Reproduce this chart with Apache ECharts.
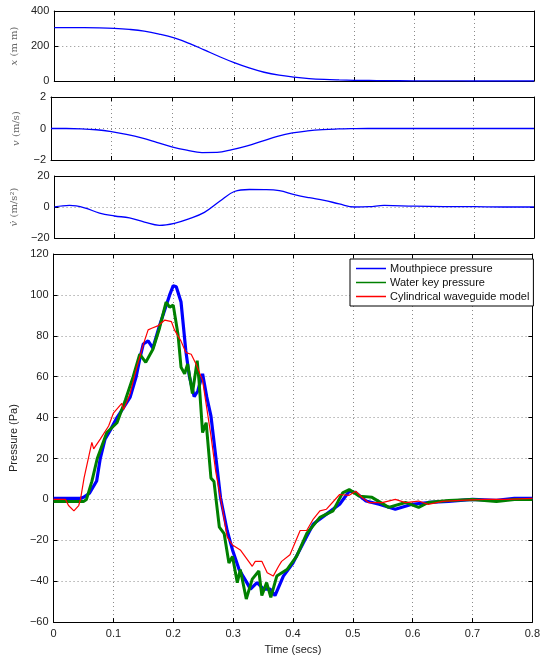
<!DOCTYPE html>
<html><head><meta charset="utf-8">
<script src="https://cdn.jsdelivr.net/npm/echarts@6/dist/echarts.min.js"></script>
<style>html,body{margin:0;padding:0;background:#fff}#c{width:543px;height:660px}</style>
</head><body><div id="c"></div>
<script>
// ---- Data ----
const timeTicks = [0, 0.1, 0.2, 0.3, 0.4, 0.5, 0.6, 0.7, 0.8];
const kinT = [0,0.025,0.05,0.075,0.1,0.125,0.15,0.175,0.2,0.225,0.25,0.275,0.3,0.325,0.35,0.375,0.4,0.425,0.45,0.475,0.5,0.525,0.55,0.6,0.65,0.7,0.75,0.8];
const posX = [305,305,305,304,301,295,285,268,246,215,178,140,105,75,50,33,22,14,9,6,4,3,2,1,0.5,0,0,0];
const velV = [0,0,-0.02,-0.08,-0.2,-0.38,-0.6,-0.88,-1.17,-1.38,-1.53,-1.52,-1.34,-1.1,-0.8,-0.5,-0.28,-0.15,-0.07,-0.03,-0.01,0,0,0,0,0,0,0];
const accA = [0,1,-0.5,-4,-5.8,-7,-9.7,-11.8,-10.5,-7.5,-3.5,3.5,10,11.3,11.2,10.5,8,6,4.3,2,0,0.2,1,0.5,0.3,0.2,0,0];

const mouthT = [0,0.045,0.05,0.06,0.072,0.078,0.086,0.095,0.106,0.115,0.128,0.138,0.145,0.15,0.158,0.166,0.176,0.185,0.194,0.2,0.205,0.213,0.221,0.227,0.235,0.241,0.249,0.256,0.263,0.274,0.279,0.29,0.299,0.31,0.323,0.329,0.34,0.351,0.362,0.37,0.384,0.4,0.417,0.434,0.456,0.478,0.494,0.505,0.522,0.544,0.571,0.599,0.626,0.66,0.7,0.74,0.77,0.8];
const mouthP = [0.5,0.5,1,3,9,20,29.5,34,40,44,50,60,70,76,77.5,74,84,92,100,104.5,104,96.5,72.6,60,50.2,53,61.4,50,40.7,13.6,0.8,-15.2,-24.7,-34.3,-40.7,-43.9,-40.7,-43.9,-43.9,-47,-37.5,-31.1,-21.5,-12,-7.2,-2.4,4,3.3,-0.8,-2.4,-4.8,-2.4,-1.5,-1,0,-0.5,0.5,0.5];

const waterT = [0,0.05,0.055,0.064,0.073,0.089,0.106,0.12,0.133,0.144,0.154,0.166,0.177,0.188,0.194,0.2,0.202,0.208,0.213,0.219,0.224,0.232,0.24,0.243,0.249,0.255,0.263,0.268,0.277,0.285,0.293,0.299,0.307,0.312,0.322,0.332,0.343,0.348,0.356,0.363,0.373,0.39,0.406,0.423,0.445,0.467,0.483,0.494,0.511,0.532,0.56,0.588,0.61,0.626,0.66,0.7,0.74,0.77,0.8];
const waterP = [-1,-1,0,8.8,20,32.7,37.5,48.6,60,71,67,73.4,83.7,96.5,94,95,95,80.5,64.6,61.4,66.2,51.8,67.8,58.2,32.7,37.5,10.4,8.8,-13.6,-16.7,-31.1,-27.9,-40.7,-34.3,-48.7,-39,-35,-47,-40.7,-47.9,-37.5,-34.3,-27.9,-16.7,-8.8,-5.6,3.2,4.8,1.6,1,-3.9,-1.5,-3.9,-1.5,-0.5,0,-1,0,0];

const modelT = [0,0.02,0.025,0.034,0.042,0.045,0.051,0.064,0.067,0.078,0.092,0.1,0.114,0.117,0.128,0.139,0.15,0.158,0.164,0.175,0.186,0.197,0.2,0.202,0.213,0.221,0.23,0.238,0.249,0.263,0.271,0.282,0.29,0.299,0.312,0.332,0.337,0.348,0.357,0.367,0.376,0.381,0.395,0.412,0.423,0.434,0.445,0.456,0.478,0.494,0.505,0.516,0.527,0.549,0.571,0.588,0.61,0.626,0.65,0.68,0.72,0.76,0.8];
const modelP = [0,0,-3,-5.6,-3,0,10.5,27.9,24.7,29.5,35.9,42.2,47,43.9,51.8,64.6,75.8,82.9,83.7,85,87.7,86.9,86,82.9,77.4,71.8,71,66.2,58.2,31.1,13.6,-4,-18.3,-22.3,-24.7,-32.7,-30.3,-30.3,-35.9,-37.5,-32.7,-30.3,-27.1,-15.2,-15.2,-9.6,-5.6,-4.8,2.4,2,4,0.8,-1.6,-1.6,0,-1.6,-0.8,-2.4,-1,-0.5,0,0,0.5];

const seriesNames = ['Mouthpiece pressure', 'Water key pressure', 'Cylindrical waveguide model'];

// ---- Build ----
const zip = (a, b) => a.map((v, i) => [v, b[i]]);
const FONT = 'Liberation Sans';
const grids = [
  {left: 51, top: 11, width: 483, height: 70},
  {left: 51, top: 97, width: 483, height: 63},
  {left: 51, top: 176, width: 483, height: 62},
  {left: 51, top: 254, width: 483, height: 377}
];
const yRanges = [[0, 400, 200], [-2, 2, 2], [-20, 20, 20], [-60, 120, 20]];
const split = {show: true, lineStyle: {color: '#8a8a8a', type: [1, 3], width: 1}};
const axLine = {show: true, onZero: false, lineStyle: {color: '#000', width: 1}};
const tick = {show: true, inside: true, length: 4, lineStyle: {color: '#000'}};
const lbl = {fontFamily: FONT, fontSize: 11, color: '#222'};
const minus = v => String(v).replace('-', '\u2212');

const yNameRich = {
  i: {fontFamily: 'DejaVu Serif', fontStyle: 'italic', fontSize: 10, color: '#666'},
  n: {fontFamily: 'DejaVu Serif', fontSize: 10, color: '#666'}
};
const yNames = ['{i|x} {n|(m m)}', '{i|v} {n|(m/s)}', '{i|v\u0307} {n|(m/s\u00B2)}', 'Pressure (Pa)'];

const xAxes = [], yAxes = [];
grids.forEach((g, k) => {
  const last = k === 3;
  xAxes.push({type: 'value', gridIndex: k, min: 0, max: 0.8, interval: 0.1, position: 'bottom',
    axisLine: axLine, axisTick: tick, splitLine: split,
    axisLabel: last ? Object.assign({}, lbl, {margin: 6, formatter: v => String(+v.toFixed(1))}) : {show: false},
    name: last ? 'Time (secs)' : '', nameLocation: 'middle', nameGap: 21,
    nameTextStyle: {fontFamily: FONT, fontSize: 11, color: '#222'}});
  xAxes.push({type: 'value', gridIndex: k, min: 0, max: 0.8, interval: 0.1, position: 'top',
    axisLine: axLine, axisTick: tick, splitLine: {show: false}, axisLabel: {show: false}});
  const r = yRanges[k];
  yAxes.push({type: 'value', gridIndex: k, min: r[0], max: r[1], interval: r[2], position: 'left',
    axisLine: axLine, axisTick: tick, splitLine: split,
    axisLabel: Object.assign({}, lbl, {margin: 5, formatter: minus}),
    name: yNames[k], nameLocation: 'middle', nameRotate: 90, nameGap: last ? 30 : 27,
    nameTextStyle: last ? {fontFamily: FONT, fontSize: 11, color: '#222'} : {rich: yNameRich}});
  yAxes.push({type: 'value', gridIndex: k, min: r[0], max: r[1], interval: r[2], position: 'right',
    axisLine: axLine, axisTick: tick, splitLine: {show: false}, axisLabel: {show: false}});
});

const kin = (vals, k) => ({type: 'line', xAxisIndex: 2 * k, yAxisIndex: 2 * k, data: zip(kinT, vals),
  showSymbol: false, smooth: 0.4, lineStyle: {color: '#0000ff', width: 1.3}, itemStyle: {color: '#0000ff'}, silent: true});

const series = [
  kin(posX, 0), kin(velV, 1), kin(accA, 2),
  {name: seriesNames[0], type: 'line', xAxisIndex: 6, yAxisIndex: 6, data: zip(mouthT, mouthP), showSymbol: false,
    lineStyle: {color: '#0000ff', width: 3.2}, itemStyle: {color: '#0000ff'}},
  {name: seriesNames[1], type: 'line', xAxisIndex: 6, yAxisIndex: 6, data: zip(waterT, waterP), showSymbol: false,
    lineStyle: {color: '#008000', width: 3}, itemStyle: {color: '#008000'}},
  {name: seriesNames[2], type: 'line', xAxisIndex: 6, yAxisIndex: 6, data: zip(modelT, modelP), showSymbol: false,
    lineStyle: {color: '#ff0000', width: 1.2}, itemStyle: {color: '#ff0000'}}
];

const chart = echarts.init(document.getElementById('c'), null, {renderer: 'canvas'});
chart.setOption({
  animation: false,
  backgroundColor: '#fff',
  grid: grids,
  xAxis: xAxes,
  yAxis: yAxes,
  legend: {
    data: seriesNames, orient: 'vertical', left: 350, top: 259,
    backgroundColor: '#fff', borderColor: '#000', borderWidth: 1, borderRadius: 0,
    padding: [4, 4, 4, 6], itemGap: 3, itemWidth: 30, itemHeight: 1.5, icon: 'rect',
    textStyle: {fontFamily: FONT, fontSize: 11, color: '#111', padding: [0, 0, 0, -1]}
  },
  series: series
});
</script></body></html>
